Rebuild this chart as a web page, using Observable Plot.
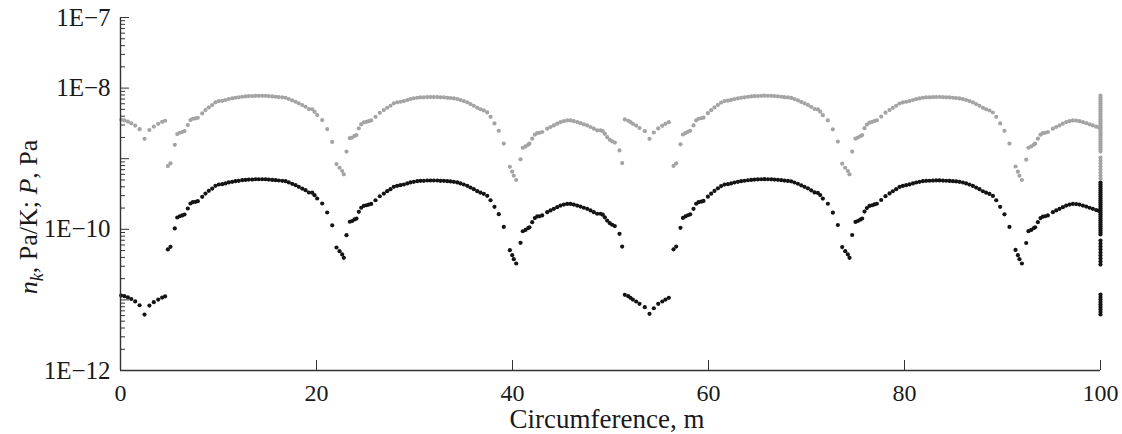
<!DOCTYPE html>
<html><head><meta charset="utf-8">
<script src="https://cdn.jsdelivr.net/npm/d3@7"></script>
<script src="https://cdn.jsdelivr.net/npm/@observablehq/plot@0.6"></script>
<style>html,body{margin:0;padding:0;background:#fff} svg{display:block}</style>
</head><body><div id="chart"></div>
<script>
// Rows: [circumference (m), n_k (black dots), P (grey dots)]
const segA = [
  [0.07, 1.15e-11, 3.56e-9], [0.40, 1.13e-11, 3.48e-9], [0.75, 1.09e-11, 3.36e-9],
  [1.10, 1.03e-11, 3.18e-9], [1.50, 9.5e-12, 2.95e-9], [1.95, 8.4e-12, 2.62e-9],
  [2.45, 6.2e-12, 1.91e-9], [2.95, 8.3e-12, 2.55e-9], [3.40, 9.3e-12, 2.85e-9],
  [3.85, 1.01e-11, 3.12e-9], [4.25, 1.08e-11, 3.33e-9], [4.55, 1.12e-11, 3.45e-9]
];
const archB = [
  [4.83, 5.18e-11, 7.87e-10], [5.10, 5.65e-11, 8.59e-10], [5.54, 1.03e-10, 1.57e-9],
  [5.79, 1.47e-10, 2.23e-9], [6.05, 1.53e-10, 2.33e-9], [6.30, 1.57e-10, 2.39e-9],
  [6.53, 1.62e-10, 2.46e-9], [6.87, 1.97e-10, 2.99e-9], [7.14, 2.32e-10, 3.53e-9],
  [7.38, 2.42e-10, 3.68e-9], [7.65, 2.45e-10, 3.72e-9], [7.89, 2.50e-10, 3.80e-9],
  [8.34, 2.88e-10, 4.38e-9], [8.67, 3.21e-10, 4.88e-9], [9.01, 3.51e-10, 5.34e-9],
  [9.36, 3.78e-10, 5.75e-9], [9.69, 4.13e-10, 6.28e-9], [10.03, 4.31e-10, 6.55e-9],
  [10.38, 4.35e-10, 6.61e-9], [10.71, 4.46e-10, 6.78e-9], [11.05, 4.61e-10, 7.01e-9],
  [11.40, 4.71e-10, 7.16e-9], [11.73, 4.80e-10, 7.30e-9], [12.07, 4.86e-10, 7.39e-9],
  [12.42, 4.96e-10, 7.54e-9], [12.76, 5.01e-10, 7.62e-9], [13.09, 5.07e-10, 7.71e-9],
  [13.44, 5.07e-10, 7.71e-9], [13.78, 5.12e-10, 7.78e-9], [14.11, 5.12e-10, 7.78e-9],
  [14.46, 5.12e-10, 7.78e-9], [14.80, 5.12e-10, 7.78e-9], [15.13, 5.07e-10, 7.71e-9],
  [15.48, 5.01e-10, 7.62e-9], [15.82, 4.96e-10, 7.54e-9], [16.15, 4.91e-10, 7.46e-9],
  [16.50, 4.86e-10, 7.39e-9], [16.84, 4.80e-10, 7.30e-9], [17.17, 4.61e-10, 7.01e-9],
  [17.52, 4.41e-10, 6.70e-9], [17.86, 4.22e-10, 6.41e-9], [18.19, 4.00e-10, 6.08e-9],
  [18.54, 3.78e-10, 5.75e-9], [18.88, 3.58e-10, 5.44e-9], [19.22, 3.32e-10, 5.05e-9],
  [19.56, 3.30e-10, 5.02e-9], [19.80, 3.04e-10, 4.62e-9], [20.07, 2.73e-10, 4.15e-9],
  [20.58, 2.32e-10, 3.53e-9], [21.09, 1.73e-10, 2.63e-9], [21.60, 1.14e-10, 1.73e-9],
  [22.04, 5.52e-11, 8.39e-10], [22.35, 4.90e-11, 7.45e-10], [22.62, 4.40e-11, 6.69e-10],
  [22.79, 3.95e-11, 6.00e-10]
];
const archC = [
  [23.06, 8.26e-11, 1.26e-9], [23.40, 1.28e-10, 1.95e-9], [23.64, 1.31e-10, 1.99e-9],
  [23.88, 1.38e-10, 2.10e-9], [24.08, 1.42e-10, 2.16e-9], [24.32, 1.77e-10, 2.69e-9],
  [24.56, 2.02e-10, 3.07e-9], [24.83, 2.15e-10, 3.27e-9], [25.10, 2.19e-10, 3.33e-9],
  [25.34, 2.24e-10, 3.40e-9], [25.58, 2.29e-10, 3.48e-9], [26.02, 2.58e-10, 3.92e-9],
  [26.46, 2.94e-10, 4.47e-9], [26.87, 3.21e-10, 4.88e-9], [27.21, 3.47e-10, 5.27e-9],
  [27.55, 3.70e-10, 5.62e-9], [27.89, 4.00e-10, 6.08e-9], [28.23, 4.13e-10, 6.28e-9],
  [28.57, 4.22e-10, 6.41e-9], [28.91, 4.31e-10, 6.55e-9], [29.26, 4.46e-10, 6.78e-9],
  [29.59, 4.61e-10, 7.01e-9], [29.93, 4.71e-10, 7.16e-9], [30.28, 4.80e-10, 7.30e-9],
  [30.61, 4.86e-10, 7.39e-9], [30.95, 4.86e-10, 7.39e-9], [31.30, 4.91e-10, 7.46e-9],
  [31.63, 4.91e-10, 7.46e-9], [31.97, 4.91e-10, 7.46e-9], [32.32, 4.91e-10, 7.46e-9],
  [32.65, 4.86e-10, 7.39e-9], [33.00, 4.86e-10, 7.39e-9], [33.34, 4.80e-10, 7.30e-9],
  [33.67, 4.76e-10, 7.24e-9], [34.01, 4.71e-10, 7.16e-9], [34.36, 4.61e-10, 7.01e-9],
  [34.69, 4.46e-10, 6.78e-9], [35.03, 4.31e-10, 6.55e-9], [35.38, 4.13e-10, 6.28e-9],
  [35.71, 3.91e-10, 5.94e-9], [36.05, 3.70e-10, 5.62e-9], [36.40, 3.47e-10, 5.27e-9],
  [36.73, 3.30e-10, 5.02e-9], [37.07, 3.18e-10, 4.83e-9], [37.42, 2.98e-10, 4.53e-9],
  [37.76, 2.58e-10, 3.92e-9], [38.16, 2.08e-10, 3.16e-9], [38.60, 1.64e-10, 2.49e-9],
  [39.11, 1.08e-10, 1.64e-9], [39.73, 5.06e-11, 7.69e-10], [39.97, 4.30e-11, 6.54e-10],
  [40.13, 3.77e-11, 5.73e-10], [40.38, 3.28e-11, 4.99e-10]
];
const archD = [
  [40.82, 6.44e-11, 9.79e-10], [41.05, 9.39e-11, 1.43e-9], [41.33, 9.80e-11, 1.49e-9],
  [41.60, 1.04e-10, 1.58e-9], [41.73, 1.07e-10, 1.63e-9], [42.01, 1.26e-10, 1.92e-9],
  [42.28, 1.44e-10, 2.19e-9], [42.52, 1.52e-10, 2.31e-9], [42.76, 1.53e-10, 2.33e-9],
  [43.03, 1.57e-10, 2.39e-9], [43.54, 1.75e-10, 2.66e-9], [43.88, 1.85e-10, 2.81e-9],
  [44.22, 1.95e-10, 2.96e-9], [44.56, 2.06e-10, 3.13e-9], [44.90, 2.17e-10, 3.30e-9],
  [45.24, 2.24e-10, 3.40e-9], [45.58, 2.29e-10, 3.48e-9], [45.92, 2.29e-10, 3.48e-9],
  [46.25, 2.24e-10, 3.40e-9], [46.60, 2.17e-10, 3.30e-9], [46.94, 2.10e-10, 3.19e-9],
  [47.28, 2.02e-10, 3.07e-9], [47.62, 1.95e-10, 2.96e-9], [47.96, 1.85e-10, 2.81e-9],
  [48.30, 1.75e-10, 2.66e-9], [48.64, 1.66e-10, 2.52e-9], [48.98, 1.66e-10, 2.52e-9],
  [49.21, 1.61e-10, 2.45e-9], [49.42, 1.48e-10, 2.25e-9], [49.66, 1.33e-10, 2.02e-9],
  [49.93, 1.22e-10, 1.85e-9], [50.17, 1.16e-10, 1.76e-9], [50.44, 1.11e-10, 1.69e-9],
  [50.92, 8.63e-11, 1.31e-9], [51.19, 5.70e-11, 8.66e-10]
];
const segE = [
  [51.46, 1.18e-11, 3.60e-9], [51.81, 1.13e-11, 3.45e-9], [52.04, 1.07e-11, 3.30e-9],
  [52.28, 1.01e-11, 3.12e-9], [52.62, 9.49e-12, 2.95e-9], [52.96, 8.81e-12, 2.72e-9],
  [53.50, 7.88e-12, 2.45e-9], [53.98, 6.35e-12, 1.91e-9], [54.42, 7.62e-12, 2.35e-9],
  [54.87, 8.81e-12, 2.68e-9], [55.28, 9.49e-12, 2.92e-9], [55.61, 1.01e-11, 3.12e-9],
  [55.95, 1.07e-11, 3.29e-9]
];
const archF = [
  [56.43, 5.2e-11, 7.9e-10], [56.70, 5.7e-11, 8.6e-10], [57.14, 1.05e-10, 1.6e-9],
  [57.39, 1.45e-10, 2.2e-9], [57.65, 1.52e-10, 2.31e-9], [57.90, 1.58e-10, 2.4e-9],
  [58.13, 1.63e-10, 2.48e-9], [58.47, 1.95e-10, 2.96e-9], [58.74, 2.3e-10, 3.5e-9],
  [58.98, 2.42e-10, 3.68e-9], [59.25, 2.46e-10, 3.74e-9], [59.49, 2.52e-10, 3.83e-9],
  [59.94, 2.9e-10, 4.41e-9], [60.27, 3.2e-10, 4.86e-9], [60.61, 3.5e-10, 5.32e-9],
  [60.96, 3.8e-10, 5.78e-9], [61.29, 4.1e-10, 6.23e-9], [61.63, 4.3e-10, 6.54e-9],
  [61.98, 4.36e-10, 6.63e-9], [62.31, 4.47e-10, 6.79e-9], [62.65, 4.6e-10, 6.99e-9],
  [63.00, 4.7e-10, 7.14e-9], [63.33, 4.8e-10, 7.3e-9], [63.67, 4.87e-10, 7.4e-9],
  [64.02, 4.95e-10, 7.52e-9], [64.36, 5.01e-10, 7.62e-9], [64.69, 5.06e-10, 7.69e-9],
  [65.04, 5.08e-10, 7.72e-9], [65.38, 5.12e-10, 7.78e-9], [65.71, 5.13e-10, 7.8e-9],
  [66.06, 5.12e-10, 7.78e-9], [66.40, 5.11e-10, 7.77e-9], [66.73, 5.07e-10, 7.71e-9],
  [67.08, 5.02e-10, 7.63e-9], [67.42, 4.96e-10, 7.54e-9], [67.75, 4.9e-10, 7.45e-9],
  [68.10, 4.85e-10, 7.37e-9], [68.44, 4.78e-10, 7.27e-9], [68.77, 4.6e-10, 6.99e-9],
  [69.12, 4.42e-10, 6.72e-9], [69.46, 4.2e-10, 6.38e-9], [69.79, 4.0e-10, 6.08e-9],
  [70.14, 3.8e-10, 5.78e-9], [70.48, 3.57e-10, 5.43e-9], [70.82, 3.33e-10, 5.06e-9],
  [71.16, 3.28e-10, 4.99e-9], [71.40, 3.05e-10, 4.64e-9], [71.67, 2.72e-10, 4.13e-9],
  [72.18, 2.3e-10, 3.5e-9], [72.69, 1.72e-10, 2.61e-9], [73.20, 1.15e-10, 1.75e-9],
  [73.64, 5.6e-11, 8.5e-10], [73.95, 4.9e-11, 7.45e-10], [74.22, 4.4e-11, 6.7e-10],
  [74.39, 3.95e-11, 6.0e-10]
];
const archG = [
  [74.66, 8.3e-11, 1.26e-9], [75.00, 1.27e-10, 1.93e-9], [75.24, 1.31e-10, 1.99e-9],
  [75.48, 1.37e-10, 2.08e-9], [75.68, 1.42e-10, 2.16e-9], [75.92, 1.78e-10, 2.71e-9],
  [76.16, 2.0e-10, 3.04e-9], [76.43, 2.14e-10, 3.25e-9], [76.70, 2.19e-10, 3.33e-9],
  [76.94, 2.25e-10, 3.42e-9], [77.18, 2.3e-10, 3.5e-9], [77.62, 2.6e-10, 3.95e-9],
  [78.06, 2.95e-10, 4.48e-9], [78.47, 3.22e-10, 4.89e-9], [78.81, 3.46e-10, 5.26e-9],
  [79.15, 3.7e-10, 5.62e-9], [79.49, 3.98e-10, 6.05e-9], [79.83, 4.12e-10, 6.26e-9],
  [80.17, 4.22e-10, 6.41e-9], [80.51, 4.32e-10, 6.57e-9], [80.86, 4.46e-10, 6.78e-9],
  [81.19, 4.6e-10, 6.99e-9], [81.53, 4.7e-10, 7.14e-9], [81.88, 4.8e-10, 7.3e-9],
  [82.21, 4.86e-10, 7.39e-9], [82.55, 4.87e-10, 7.4e-9], [82.90, 4.9e-10, 7.45e-9],
  [83.23, 4.92e-10, 7.48e-9], [83.57, 4.92e-10, 7.48e-9], [83.92, 4.9e-10, 7.45e-9],
  [84.25, 4.87e-10, 7.4e-9], [84.60, 4.85e-10, 7.37e-9], [84.94, 4.8e-10, 7.3e-9],
  [85.27, 4.76e-10, 7.24e-9], [85.61, 4.7e-10, 7.14e-9], [85.96, 4.6e-10, 6.99e-9],
  [86.29, 4.46e-10, 6.78e-9], [86.63, 4.3e-10, 6.54e-9], [86.98, 4.12e-10, 6.26e-9],
  [87.31, 3.9e-10, 5.93e-9], [87.65, 3.7e-10, 5.62e-9], [88.00, 3.46e-10, 5.26e-9],
  [88.33, 3.3e-10, 5.02e-9], [88.67, 3.17e-10, 4.82e-9], [89.02, 2.97e-10, 4.51e-9],
  [89.36, 2.58e-10, 3.92e-9], [89.76, 2.08e-10, 3.16e-9], [90.20, 1.63e-10, 2.48e-9],
  [90.71, 1.08e-10, 1.64e-9], [91.33, 5.1e-11, 7.75e-10], [91.57, 4.3e-11, 6.54e-10],
  [91.73, 3.77e-11, 5.73e-10], [91.98, 3.28e-11, 4.99e-10]
];
const archH = [
  [92.42, 6.4e-11, 9.7e-10], [92.65, 9.4e-11, 1.43e-9], [92.93, 9.8e-11, 1.49e-9],
  [93.20, 1.04e-10, 1.58e-9], [93.33, 1.07e-10, 1.63e-9], [93.61, 1.26e-10, 1.92e-9],
  [93.88, 1.44e-10, 2.19e-9], [94.12, 1.51e-10, 2.3e-9], [94.36, 1.53e-10, 2.33e-9],
  [94.63, 1.57e-10, 2.39e-9], [95.14, 1.75e-10, 2.66e-9], [95.48, 1.85e-10, 2.81e-9],
  [95.82, 1.95e-10, 2.96e-9], [96.16, 2.06e-10, 3.13e-9], [96.50, 2.17e-10, 3.3e-9],
  [96.84, 2.24e-10, 3.4e-9], [97.18, 2.29e-10, 3.48e-9], [97.52, 2.28e-10, 3.47e-9],
  [97.85, 2.24e-10, 3.4e-9], [98.20, 2.17e-10, 3.3e-9], [98.54, 2.1e-10, 3.19e-9],
  [98.88, 2.02e-10, 3.07e-9], [99.22, 1.95e-10, 2.96e-9], [99.56, 1.87e-10, 2.84e-9],
  [99.85, 1.82e-10, 2.77e-9]
];
// Values stacked at the end point, circumference = 100 m
const endX = 100;
const endNk = [
  4.60e-10, 4.31e-10, 4.04e-10, 3.78e-10, 3.55e-10, 3.32e-10, 3.11e-10, 2.92e-10, 2.73e-10,
  2.56e-10, 2.40e-10, 2.25e-10, 2.10e-10, 1.97e-10, 1.85e-10, 1.73e-10, 1.62e-10, 1.52e-10,
  1.42e-10, 1.33e-10, 1.25e-10, 1.17e-10, 1.10e-10, 1.03e-10, 9.61e-11, 9.01e-11, 8.44e-11,
  6.93e-11, 6.29e-11, 5.70e-11, 5.18e-11, 4.69e-11, 4.26e-11, 3.86e-11, 3.50e-11, 3.17e-11,
  1.19e-11, 1.10e-11, 1.01e-11, 9.34e-12, 8.61e-12, 7.94e-12, 7.32e-12, 6.75e-12, 6.21e-12
];
const endP = [
  7.85e-9, 7.36e-9, 6.90e-9, 6.46e-9, 6.05e-9, 5.67e-9, 5.31e-9, 4.98e-9, 4.67e-9, 4.37e-9,
  4.09e-9, 3.84e-9, 3.59e-9, 3.37e-9, 3.15e-9, 2.95e-9, 2.77e-9, 2.59e-9, 2.43e-9, 2.28e-9,
  2.13e-9, 2.00e-9, 1.87e-9, 1.75e-9, 1.64e-9, 1.54e-9, 1.44e-9, 1.35e-9, 1.26e-9,
  1.04e-9, 9.44e-10, 8.55e-10, 7.76e-10, 7.03e-10, 6.38e-10, 5.78e-10, 5.25e-10
];
const xTicks = [0, 20, 40, 60, 80, 100];
const yLabelTicks = [1e-12, 1e-10, 1e-8, 1e-7];
const yDecades = [1e-12, 1e-11, 1e-10, 1e-9, 1e-8, 1e-7];
const xTitle = "Circumference, m";

const segments = [segA, archB, archC, archD, segE, archF, archG, archH];
const nkPts = segments.flat().map(([x, nk]) => ({x, v: nk}))
  .concat(endNk.map(v => ({x: endX, v})));
const pPts = segments.flat().map(([x, , p]) => ({x, v: p}))
  .concat(endP.map(v => ({x: endX, v})));
const minorTicks = [];
for (const d of yDecades.slice(0, -1)) for (let m = 2; m <= 9; m++) minorTicks.push(d * m);

const fmt = d => "1E\u2212" + Math.round(-Math.log10(d));
const serif = '"Liberation Serif", "Times New Roman", Times, serif';
const axisColor = "#333";

const chart = Plot.plot({
  width: 1122, height: 434,
  marginLeft: 120, marginRight: 22, marginTop: 17, marginBottom: 64,
  style: {fontFamily: serif, fontSize: "24px", color: "#1a1a1a", background: "#fff"},
  x: {domain: [0, 100], label: null},
  y: {type: "log", domain: [1e-12, 1e-7], label: null},
  marks: [
    Plot.dot(pPts, {x: "x", y: "v", r: 2.1, fill: "#a4a4a4", stroke: "none"}),
    Plot.dot(nkPts, {x: "x", y: "v", r: 2.1, fill: "#141414", stroke: "none"}),
    Plot.ruleX([0], {stroke: axisColor, strokeWidth: 1.4}),
    Plot.ruleY([1e-12], {stroke: axisColor, strokeWidth: 1.4}),
    Plot.axisY(minorTicks, {tickSize: -5, tickFormat: () => "", stroke: axisColor, label: null}),
    Plot.axisY(yDecades, {tickSize: -9, tickFormat: () => "", stroke: axisColor, label: null}),
    Plot.axisY(yLabelTicks, {tickSize: 0, tickPadding: 10, tickFormat: fmt, fontSize: 25, label: null}),
    Plot.axisX(xTicks.slice(1), {tickSize: -10, tickFormat: () => "", stroke: axisColor, label: null}),
    Plot.axisX(xTicks, {tickSize: 0, tickPadding: 13, fontSize: 24, label: null})
  ]
});
document.getElementById("chart").appendChild(chart);

const svg = d3.select(chart);
// x-axis title
svg.append("text")
  .attr("x", 607).attr("y", 428)
  .attr("text-anchor", "middle")
  .attr("font-family", serif).attr("font-size", 27).attr("fill", "#1a1a1a")
  .text(xTitle);
// y-axis title with italic symbols and subscript
const t = svg.append("text")
  .attr("transform", "translate(37,217) rotate(-90)")
  .attr("text-anchor", "middle")
  .attr("font-family", serif)
  .attr("font-size", 26)
  .attr("fill", "#1a1a1a");
t.append("tspan").attr("font-style", "italic").text("n");
t.append("tspan").attr("font-style", "italic").attr("font-size", 18).attr("dy", 6).text("k");
t.append("tspan").attr("dy", -6).text(", Pa/K; ");
t.append("tspan").attr("font-style", "italic").text("P");
t.append("tspan").text(", Pa");
</script>
</body></html>
